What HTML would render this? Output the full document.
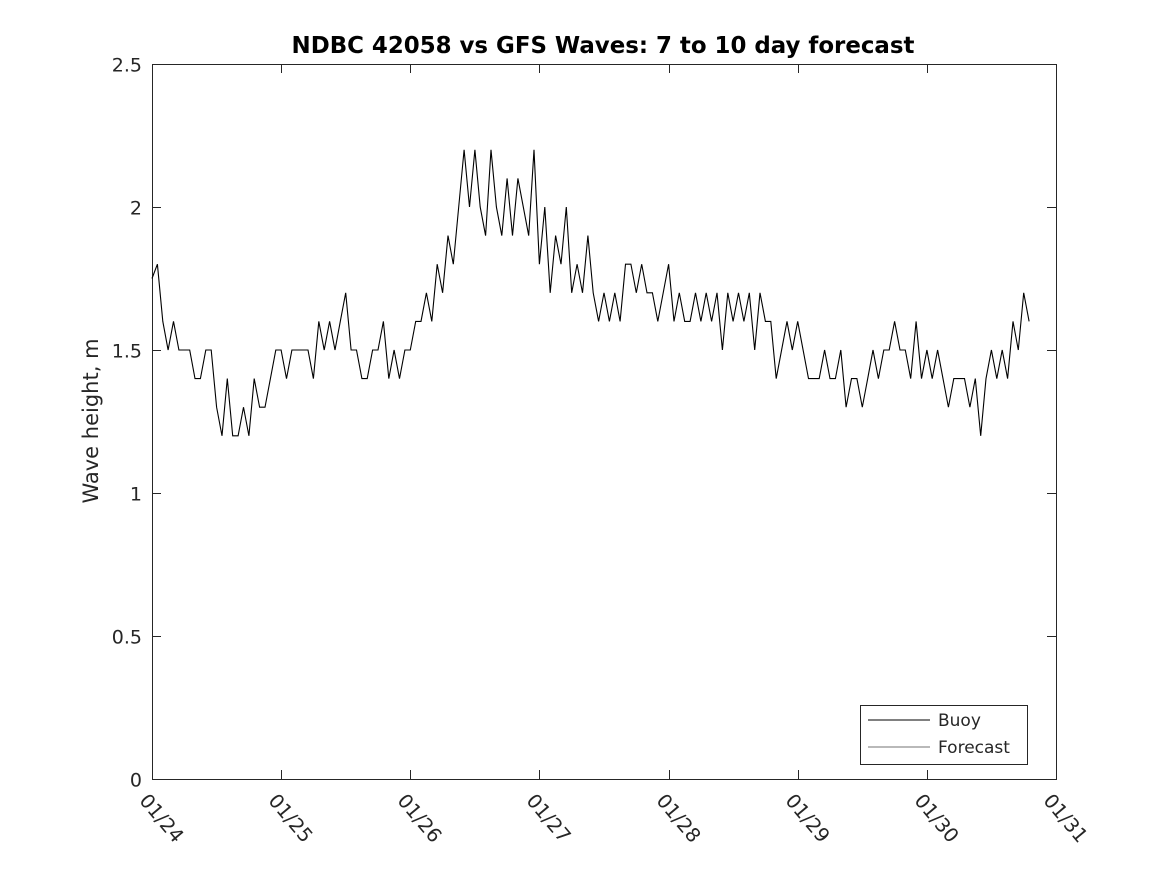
<!DOCTYPE html>
<html><head><meta charset="utf-8"><style>
body{margin:0;background:#fff;}
svg text{font-family:"DejaVu Sans","Liberation Sans",sans-serif;fill:#262626;}
</style></head><body>
<svg id="chart" width="1167" height="875" xmlns="http://www.w3.org/2000/svg">
<rect width="1167" height="875" fill="#fff"/>
<text x="603" y="53" text-anchor="middle" font-size="22.9" font-weight="bold" style="fill:#000">NDBC 42058 vs GFS Waves: 7 to 10 day forecast</text>
<text transform="translate(98,421) rotate(-90)" text-anchor="middle" font-size="21">Wave height, m</text>
<g id="axes"></g>
<path id="buoy" fill="none" stroke="#000" stroke-width="1.1"/>
<g>
<rect x="860.5" y="705.5" width="167" height="59" fill="#fff" stroke="#262626" stroke-width="1"/>
<line x1="868" y1="720" x2="930" y2="720" stroke="#000" stroke-width="1.1"/>
<text x="938" y="726" font-size="17">Buoy</text>
<line x1="868" y1="747" x2="930" y2="747" stroke="#444" stroke-width="0.7"/>
<text x="938" y="753" font-size="17">Forecast</text>
</g>
</svg>
<script>
const xTickLabels=["01/24","01/25","01/26","01/27","01/28","01/29","01/30","01/31"];
const yTicks=[0,0.5,1,1.5,2,2.5];
const yTickLabels=["0","0.5","1","1.5","2","2.5"];
const buoyHeights=[
1.75,1.8,1.6,1.5,1.6,1.5,1.5,1.5,1.4,1.4,1.5,1.5,1.3,1.2,1.4,1.2,1.2,1.3,1.2,1.4,1.3,1.3,1.4,1.5,
1.5,1.4,1.5,1.5,1.5,1.5,1.4,1.6,1.5,1.6,1.5,1.6,1.7,1.5,1.5,1.4,1.4,1.5,1.5,1.6,1.4,1.5,1.4,1.5,
1.5,1.6,1.6,1.7,1.6,1.8,1.7,1.9,1.8,2.0,2.2,2.0,2.2,2.0,1.9,2.2,2.0,1.9,2.1,1.9,2.1,2.0,1.9,2.2,
1.8,2.0,1.7,1.9,1.8,2.0,1.7,1.8,1.7,1.9,1.7,1.6,1.7,1.6,1.7,1.6,1.8,1.8,1.7,1.8,1.7,1.7,1.6,1.7,
1.8,1.6,1.7,1.6,1.6,1.7,1.6,1.7,1.6,1.7,1.5,1.7,1.6,1.7,1.6,1.7,1.5,1.7,1.6,1.6,1.4,1.5,1.6,1.5,
1.6,1.5,1.4,1.4,1.4,1.5,1.4,1.4,1.5,1.3,1.4,1.4,1.3,1.4,1.5,1.4,1.5,1.5,1.6,1.5,1.5,1.4,1.6,1.4,
1.5,1.4,1.5,1.4,1.3,1.4,1.4,1.4,1.3,1.4,1.2,1.4,1.5,1.4,1.5,1.4,1.6,1.5,1.7,1.6];
const X0=152,X1=1056,Y0=779,Y1=64;
const xScale=h=>X0+h/(7*24)*(X1-X0);
const yScale=v=>Y0-v/2.5*(Y0-Y1);
const NS="http://www.w3.org/2000/svg";
const ax=document.getElementById('axes');
function mk(t,a){const e=document.createElementNS(NS,t);for(const k in a)e.setAttribute(k,a[k]);ax.appendChild(e);return e;}
const frame=mk('rect',{x:X0+0.5,y:Y1+0.5,width:X1-X0,height:Y0-Y1,fill:'none',stroke:'#262626','stroke-width':1});


yTicks.forEach((v,i)=>{const y=Math.round(yScale(v))+0.5;
const t1=mk('line',{x1:X0,x2:X0+9,y1:y,y2:y,stroke:'#262626'});


const t2=mk('line',{x1:X1-9,x2:X1,y1:y,y2:y,stroke:'#262626'});


const tx=mk('text',{x:X0-10,y:y+7,'text-anchor':'end','font-size':19});tx.textContent=yTickLabels[i];


});
xTickLabels.forEach((lab,i)=>{const x=Math.round(xScale(i*24))+0.5;
const t1=mk('line',{x1:x,x2:x,y1:Y0,y2:Y0-9,stroke:'#262626'});


const t2=mk('line',{x1:x,x2:x,y1:Y1,y2:Y1+9,stroke:'#262626'});


const tx=mk('text',{transform:`translate(${x-14},${Y0+22}) rotate(50)`,'font-size':19.5});tx.textContent=lab;


});
document.getElementById('buoy').setAttribute('d',buoyHeights.map((v,i)=>(i?'L':'M')+xScale(i).toFixed(1)+','+yScale(v).toFixed(1)).join(''));
</script>
</body></html>
